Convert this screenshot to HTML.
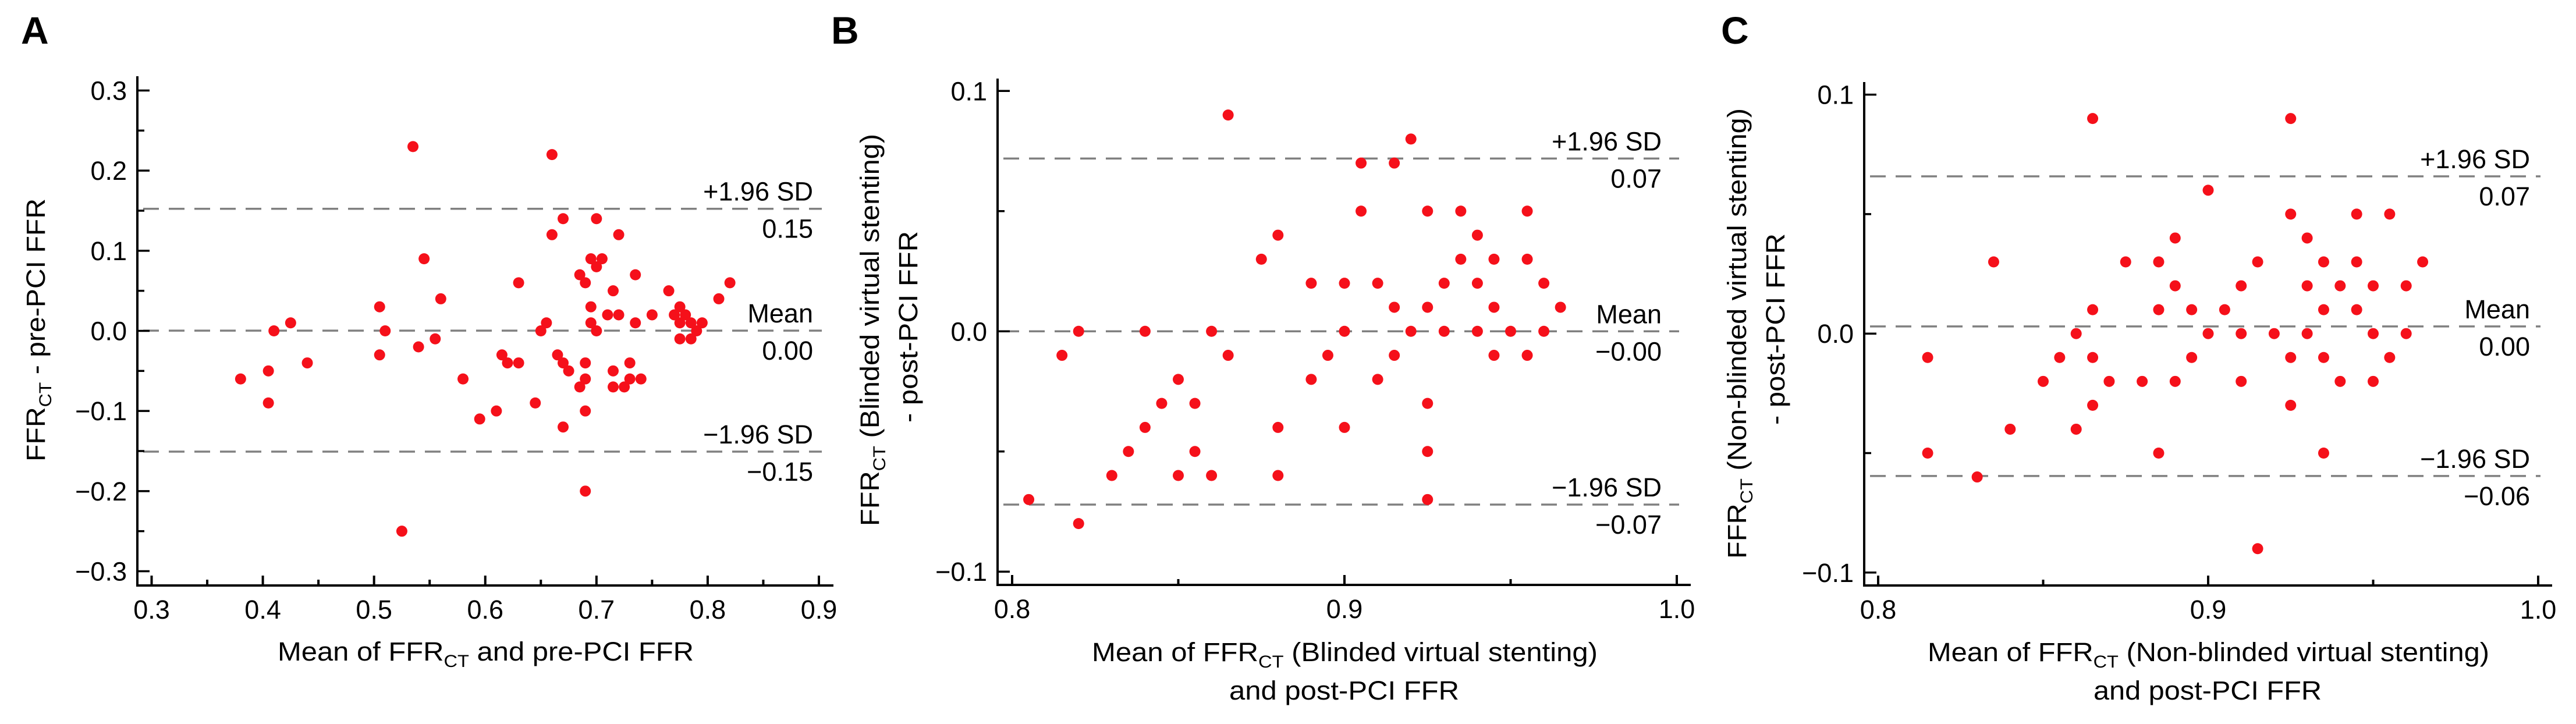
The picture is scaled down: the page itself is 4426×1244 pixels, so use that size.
<!DOCTYPE html>
<html><head><meta charset="utf-8"><style>
html,body{margin:0;padding:0;background:#fff;overflow:hidden;}
svg{display:block;font-family:"Liberation Sans",Arial,sans-serif;}
</style></head><body>
<svg id="chart" width="4426" height="1244" viewBox="0 0 4426 1244" xmlns="http://www.w3.org/2000/svg"></svg>
<script>
// ---------- Panel A data ----------
const aX = [0.38,0.405,0.405,0.41,0.425,0.44,0.505,0.505,0.51,0.525,0.535,0.54,0.545,0.555,0.56,0.58,0.595,0.61,0.615,0.62,0.63,0.63,0.645,0.65,0.655,0.66,0.66,0.665,0.67,0.67,0.67,0.675,0.685,0.685,0.69,0.69,0.69,0.69,0.69,0.695,0.695,0.695,0.70,0.70,0.70,0.705,0.71,0.715,0.715,0.715,0.72,0.72,0.725,0.73,0.73,0.735,0.735,0.74,0.75,0.765,0.77,0.775,0.775,0.775,0.78,0.785,0.785,0.79,0.795,0.81,0.82];
const aY = [-0.06,-0.05,-0.09,0,0.01,-0.04,0.03,-0.03,0,-0.25,0.23,-0.02,0.09,-0.01,0.04,-0.06,-0.11,-0.10,-0.03,-0.04,0.06,-0.04,-0.09,0,0.01,0.22,0.12,-0.03,0.14,-0.04,-0.12,-0.05,0.07,-0.07,0.06,-0.04,-0.06,-0.10,-0.20,0.09,0.03,0.01,0.14,0.08,0,0.09,0.02,0.05,-0.05,-0.07,0.12,0.02,-0.07,-0.04,-0.06,0.07,0.01,-0.06,0.02,0.05,0.02,0.03,0.01,-0.01,0.02,0.01,-0.01,0,0.01,0.04,0.06];
const aLines = [0.1524, 0.0003, -0.1507];
const aLineLabels = [["+1.96 SD","0.15"],["Mean","0.00"],["\u22121.96 SD","\u22120.15"]];
const aXTicks = ["0.3","0.4","0.5","0.6","0.7","0.8","0.9"];
const aYTicks = ["0.3","0.2","0.1","0.0","\u22120.1","\u22120.2","\u22120.3"];

// ---------- Panel B data ----------
const bX = [0.805,0.815,0.82,0.82,0.83,0.835,0.84,0.84,0.845,0.85,0.85,0.855,0.855,0.86,0.86,0.865,0.865,0.875,0.88,0.88,0.88,0.89,0.89,0.895,0.90,0.90,0.90,0.905,0.905,0.91,0.91,0.915,0.915,0.915,0.92,0.92,0.925,0.925,0.925,0.925,0.925,0.93,0.93,0.935,0.935,0.94,0.94,0.94,0.945,0.945,0.945,0.95,0.955,0.955,0.955,0.96,0.96,0.965];
const bY = [-0.07,-0.01,0,-0.08,-0.06,-0.05,0,-0.04,-0.03,-0.02,-0.06,-0.03,-0.05,0,-0.06,0.09,-0.01,0.03,0.04,-0.04,-0.06,0.02,-0.02,-0.01,0.02,0,-0.04,0.07,0.05,0.02,-0.02,0.07,0.01,-0.01,0.08,0,0.05,0.01,-0.03,-0.05,-0.07,0.02,0,0.05,0.03,0.04,0.02,0,0.03,0.01,-0.01,0,0.05,0.03,-0.01,0.02,0,0.01];
const bLines = [0.0719, 0.0, -0.0721];
const bLineLabels = [["+1.96 SD","0.07"],["Mean","\u22120.00"],["\u22121.96 SD","\u22120.07"]];
const bXTicks = ["0.8","0.9","1.0"];
const bYTicks = ["0.1","0.0","\u22120.1"];

// ---------- Panel C data ----------
const cX = [0.815,0.815,0.83,0.835,0.84,0.85,0.855,0.86,0.86,0.865,0.865,0.865,0.865,0.87,0.875,0.88,0.885,0.885,0.885,0.89,0.89,0.89,0.895,0.895,0.90,0.90,0.905,0.91,0.91,0.91,0.915,0.915,0.92,0.925,0.925,0.925,0.925,0.93,0.93,0.93,0.935,0.935,0.935,0.935,0.94,0.94,0.945,0.945,0.945,0.95,0.95,0.95,0.955,0.955,0.96,0.96,0.965];
const cY = [-0.01,-0.05,-0.06,0.03,-0.04,-0.02,-0.01,0,-0.04,0.09,0.01,-0.01,-0.03,-0.02,0.03,-0.02,0.03,0.01,-0.05,0.04,0.02,-0.02,0.01,-0.01,0.06,0,0.01,0.02,0,-0.02,0.03,-0.09,0,0.09,0.05,-0.01,-0.03,0.04,0.02,0,0.03,0.01,-0.01,-0.05,0.02,-0.02,0.05,0.03,0.01,0.02,0,-0.02,0.05,-0.01,0.02,0,0.03];
const cLines = [0.0658, 0.003, -0.0596];
const cLineLabels = [["+1.96 SD","0.07"],["Mean","0.00"],["\u22121.96 SD","\u22120.06"]];
const cXTicks = ["0.8","0.9","1.0"];
const cYTicks = ["0.1","0.0","\u22120.1"];

const NS = "http://www.w3.org/2000/svg";
const svg = document.getElementById("chart");
const FS = 45;
function mk(tag, attrs, parent){
  const e = document.createElementNS(NS, tag);
  for (const k in attrs) e.setAttribute(k, attrs[k]);
  (parent||svg).appendChild(e);
  return e;
}
function txt(parent, x, y, s, anchor){
  const t = mk("text", {x:x, y:y, "text-anchor":anchor, "font-size":FS, fill:"#000"}, parent);
  t.textContent = s;
  return t;
}
function ffrText(parent, attrs, pre, post, len){
  const t = mk("text", attrs, parent);
  if (len){ t.setAttribute("textLength", len); t.setAttribute("lengthAdjust","spacingAndGlyphs"); }
  const a = mk("tspan", {}, t); a.textContent = pre;
  const b = mk("tspan", {"font-size":30, dy:11}, t); b.textContent = "CT";
  const c = mk("tspan", {dy:-11}, t); c.textContent = post;
  return t;
}

function panel(cfg){
  const g = mk("g", {});
  
  
  const xs = v => cfg.px0 + (v - cfg.x0) * (cfg.px1 - cfg.px0) / (cfg.x1 - cfg.x0);
  const ys = v => cfg.py0 + (v - cfg.y0) * (cfg.py1 - cfg.py0) / (cfg.y1 - cfg.y0);

  const L = mk("text", {x:cfg.letterX, y:75, "font-size":66, "font-weight":"bold", fill:"#000"}, g);
  
  
  L.textContent = cfg.letter;

  cfg.lines.forEach((v,i)=>{
    const ln = mk("line", {x1:cfg.axL+10, x2:cfg.axR-20, y1:ys(v), y2:ys(v), stroke:"#808080", "stroke-width":3.5, "stroke-dasharray":"27 17"}, g);
    
    
    const t1 = txt(g, cfg.labR, ys(v)-14, cfg.lineLabels[i][0], "end");
    
    
    const t2 = txt(g, cfg.labR, ys(v)+50, cfg.lineLabels[i][1], "end");
    
    
  });

  cfg.xd.forEach((v,i)=>{
    const c = mk("circle", {cx:xs(v), cy:ys(cfg.yd[i]), r:9.5, fill:"#f5101a"}, g);
    
    
  });

  const ax = mk("path", {d:`M${cfg.axL},${cfg.axT} V${cfg.axB} H${cfg.axR}`, fill:"none", stroke:"#000", "stroke-width":4}, g);
  
  

  const nx = cfg.xTicks.length;
  cfg.xTicks.forEach((s,i)=>{
    const v = cfg.x0 + i*(cfg.x1-cfg.x0)/(nx-1);
    mk("line", {x1:xs(v), x2:xs(v), y1:cfg.axB, y2:cfg.axB-17, stroke:"#000","stroke-width":4}, g);
    const t = txt(g, xs(v), cfg.axB+57, s, "middle");
    
    
    if (i<nx-1){
      const m = v + (cfg.x1-cfg.x0)/(nx-1)/2;
      mk("line", {x1:xs(m), x2:xs(m), y1:cfg.axB, y2:cfg.axB-10, stroke:"#000","stroke-width":4}, g);
    }
  });
  const ny = cfg.yTicks.length;
  cfg.yTicks.forEach((s,i)=>{
    const v = cfg.y0 + i*(cfg.y1-cfg.y0)/(ny-1);
    mk("line", {x1:cfg.axL, x2:cfg.axL+21, y1:ys(v), y2:ys(v), stroke:"#000","stroke-width":3.5}, g);
    const t = txt(g, cfg.axL-18, ys(v)+16, s, "end");
    
    
    if (i<ny-1){
      const m = v + (cfg.y1-cfg.y0)/(ny-1)/2;
      mk("line", {x1:cfg.axL, x2:cfg.axL+12, y1:ys(m), y2:ys(m), stroke:"#000","stroke-width":3.5}, g);
    }
  });

  cfg.xTitle.forEach((ln)=>{
    let t;
    if (ln.ct) t = ffrText(g, {x:ln.x0, y:ln.y, "font-size":FS, fill:"#000"}, ln.pre, ln.post, ln.len);
    else { t = mk("text", {x:ln.x0, y:ln.y, "font-size":FS, fill:"#000", textLength:ln.len, lengthAdjust:"spacingAndGlyphs"}, g); t.textContent = ln.pre; }
    
    
  });
  cfg.yTitle.forEach((ln)=>{
    let t;
    const tr = `translate(${ln.x},${ln.yb}) rotate(-90)`;
    if (ln.ct) t = ffrText(g, {x:0, y:0, transform:tr, "font-size":FS, fill:"#000"}, ln.pre, ln.post, ln.len);
    else { t = mk("text", {x:0, y:0, transform:tr, "font-size":FS, fill:"#000", textLength:ln.len, lengthAdjust:"spacingAndGlyphs"}, g); t.textContent = ln.pre; }
    
    
  });
}

panel({name:"panel-a", letter:"A", letterX:36, xd:aX, yd:aY, lines:aLines, lineLabels:aLineLabels, xTicks:aXTicks, yTicks:aYTicks,
  x0:0.3, x1:0.9, px0:260.5, px1:1407, y0:0.3, y1:-0.3, py0:155.5, py1:981.5,
  axL:236, axT:131, axB:1006, axR:1432, labR:1397,
  xTitle:[{ct:true, pre:"Mean of FFR", post:" and pre-PCI FFR", x0:477, y:1135, len:715}],
  yTitle:[{ct:true, pre:"FFR", post:" - pre-PCI FFR", x:77, yb:793, len:452}]
});
panel({name:"panel-b", letter:"B", letterX:1428, xd:bX, yd:bY, lines:bLines, lineLabels:bLineLabels, xTicks:bXTicks, yTicks:bYTicks,
  x0:0.8, x1:1.0, px0:1739, px1:2881, y0:0.1, y1:-0.1, py0:156.3, py1:982.2,
  axL:1714, axT:135, axB:1005, axR:2905, labR:2855,
  xTitle:[{ct:true, pre:"Mean of FFR", post:" (Blinded virtual stenting)", x0:1876, y:1136, len:869},
          {ct:false, pre:"and post-PCI FFR", x0:2112, y:1202, len:395}],
  yTitle:[{ct:true, pre:"FFR", post:" (Blinded virtual stenting)", x:1510, yb:904, len:674},
          {ct:false, pre:"- post-PCI FFR", x:1576, yb:726, len:329}]
});
panel({name:"panel-c", letter:"C", letterX:2957, xd:cX, yd:cY, lines:cLines, lineLabels:cLineLabels, xTicks:cXTicks, yTicks:cYTicks,
  x0:0.8, x1:1.0, px0:3227, px1:4361, y0:0.1, y1:-0.1, py0:162.6, py1:983.8,
  axL:3203, axT:141, axB:1006, axR:4385, labR:4347,
  xTitle:[{ct:true, pre:"Mean of FFR", post:" (Non-blinded virtual stenting)", x0:3312, y:1136, len:965},
          {ct:false, pre:"and post-PCI FFR", x0:3597, y:1202, len:392}],
  yTitle:[{ct:true, pre:"FFR", post:" (Non-blinded virtual stenting)", x:3000, yb:960, len:774},
          {ct:false, pre:"- post-PCI FFR", x:3066, yb:730, len:329}]
});
</script>
</body></html>
